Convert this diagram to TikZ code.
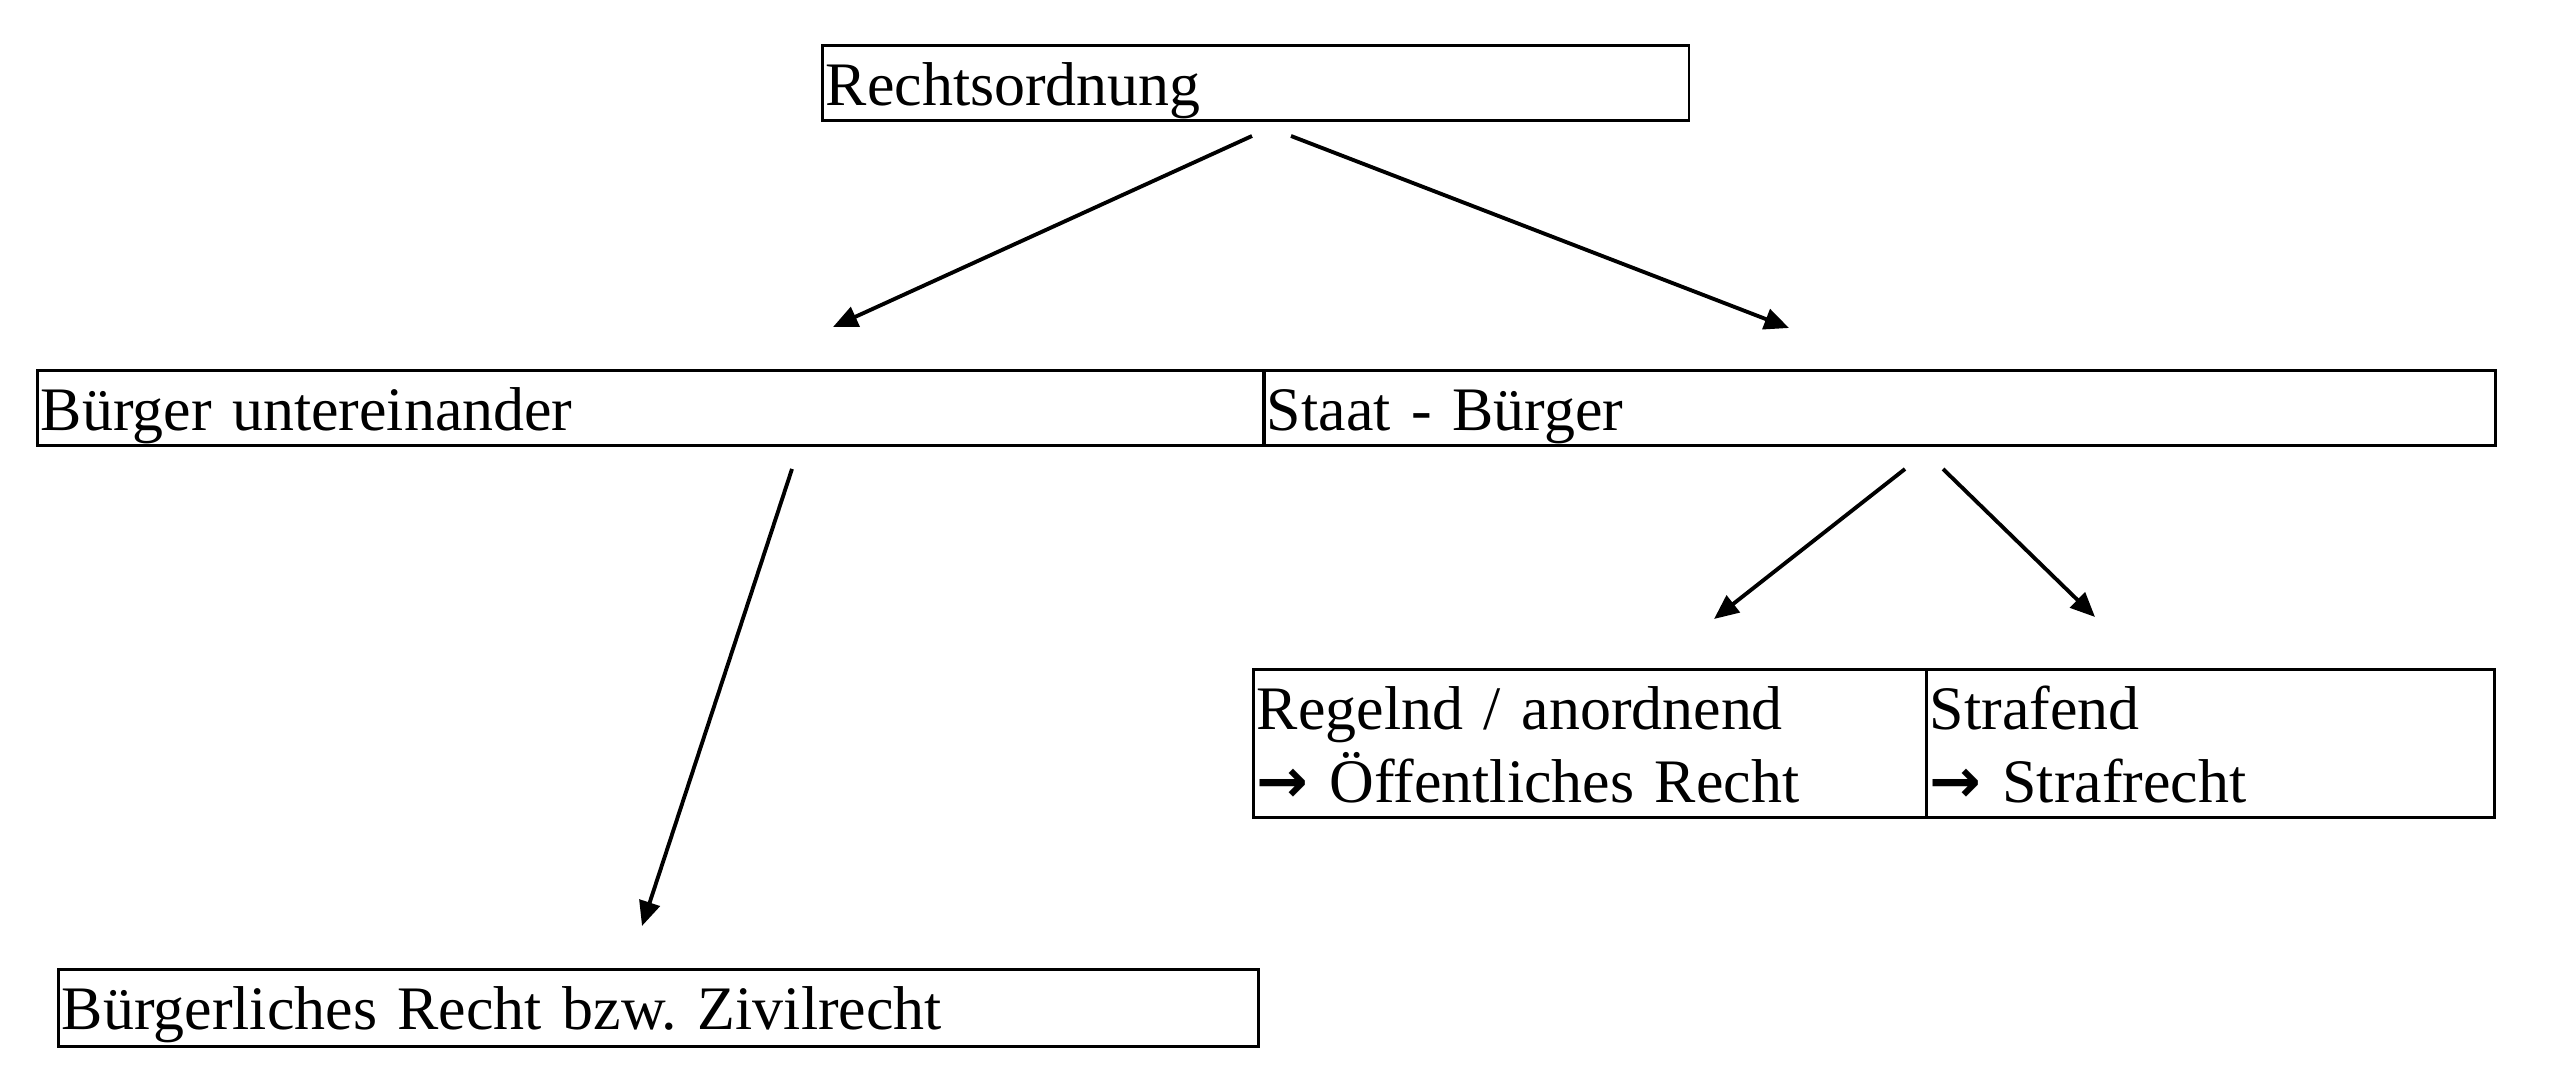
\documentclass[tikz,border=0pt]{standalone}
\usepackage{fontspec}
\setmainfont{Liberation Serif}
\newfontfamily\pfeilfont{DejaVu Sans}
\newcommand{\zu}{{\pfeilfont\bfseries →}}
\frenchspacing
\usetikzlibrary{arrows,arrows.meta,positioning}

\begin{document}
\begin{tikzpicture}[
    x=0.01cm, y=-0.01cm, >={Triangle[length=7pt,width=6pt]},
    pfeil/.style={->, line width=1.1pt},
    every node/.style={draw, line width=0.8pt, anchor=north west, inner xsep=1pt, inner ysep=0pt,
        align=left, text height=0.6cm, text depth=0.15cm,
        font=\fontsize{17.6pt}{20.7pt}\selectfont}]

    \useasboundingbox (0,0) rectangle (2560,1080);

    % Define boxes
    \node (ordnung) at (821,44) [text width=8.66cm-2pt] {Rechtsordnung};
    \node (buerger) at (36,369) [text width=12.26cm-2pt] {Bürger untereinander};
    \node (staat) at (1262,369) [text width=12.31cm-2pt] {Staat - Bürger};
    \node (regelnd) at (1252,668) [text width=6.73cm-2pt, text depth=0.88cm] {Regelnd / anordnend\\\zu{} Öffentliches Recht};
    \node (strafend) at (1925,668) [text width=5.68cm-2pt, text depth=0.88cm] {Strafend\\\zu{} Strafrecht};
    \node (zivil) at (57,968) [text width=11.99cm-2pt, text depth=0.17cm] {Bürgerliches Recht bzw. Zivilrecht};

    % Arrow ends
    \coordinate (o1) at (1252,136);
    \coordinate (o2) at (1291,136);
    \coordinate (b1) at (833,327);
    \coordinate (s1) at (1789,328);
    \coordinate (b2) at (792,469);
    \coordinate (z1) at (642,926);
    \coordinate (s2) at (1905,469);
    \coordinate (s3) at (1943,469);
    \coordinate (r1) at (1714,619);
    \coordinate (f1) at (2095,617);

    % Draw arrows
    \path[pfeil] (o1) edge (b1)
                 (o2) edge (s1)
                 (b2) edge (z1)
                 (s2) edge (r1)
                 (s3) edge (f1);

\end{tikzpicture}
\end{document}
